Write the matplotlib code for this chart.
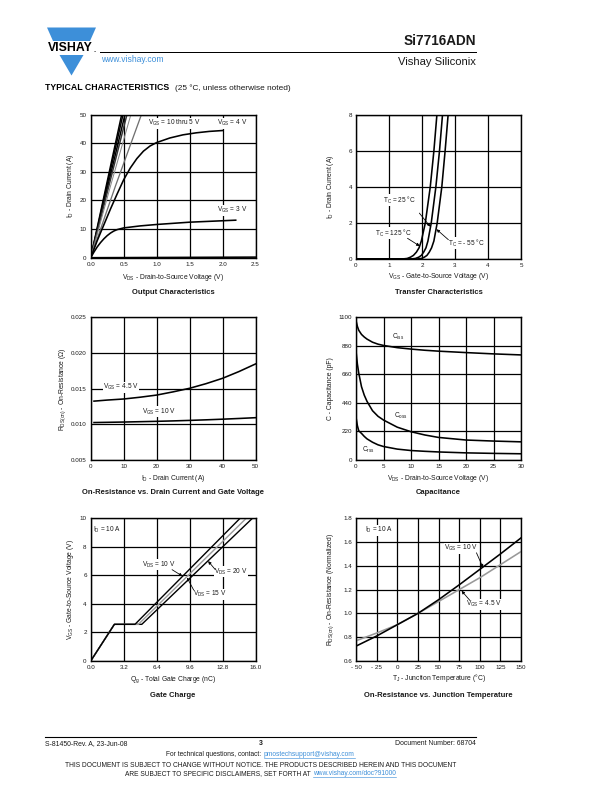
import matplotlib
matplotlib.use("Agg")
import matplotlib.pyplot as plt
from matplotlib.patches import Polygon

plt.rcParams['font.family'] = ['Liberation Sans', 'DejaVu Sans']
plt.rcParams['mathtext.fontset'] = 'custom'
plt.rcParams['mathtext.rm'] = 'Liberation Sans'
plt.rcParams['mathtext.it'] = 'Liberation Sans'
plt.rcParams['mathtext.bf'] = 'Liberation Sans:bold'

# ---------------- data ----------------
# Output characteristics (VGS = 10 thru 5 V are near-straight lines)
out_steep_id = [0, 25, 50]
out_steep_vds = [[0, 0.235, 0.47], [0, 0.245, 0.49], [0, 0.26, 0.52],
                 [0, 0.275, 0.55], [0, 0.30, 0.61], [0, 0.375, 0.77]]
out_4v_vds = [0, 0.1, 0.2, 0.3, 0.4, 0.5, 0.6, 0.7, 0.8, 0.9, 1.0, 1.2, 1.4, 1.6, 1.8, 2.0]
out_4v_id = [0, 6, 11.5, 17, 22.2, 27.2, 31.3, 34.6, 37.2, 39, 40.2, 41.8, 42.9, 43.6, 44.1, 44.4]
out_3v_vds = [0, 0.05, 0.1, 0.15, 0.2, 0.25, 0.3, 0.35, 0.4, 0.5, 0.75, 1.0, 1.5, 2.0, 2.2]
out_3v_id = [0, 2.0, 3.8, 5.3, 6.6, 7.7, 8.6, 9.3, 9.8, 10.4, 11.1, 11.6, 12.4, 12.9, 13.1]
out_2v_vds = [0, 2.5]
out_2v_id = [0, 0.2]

# Transfer characteristics
tr_id = [0, 0, 0.03, 0.1, 0.2, 0.38, 0.62, 1.0, 2.0, 4.0, 6.0, 8.2]
tr_125_vgs = [0, 1.4, 1.55, 1.65, 1.74, 1.83, 1.91, 1.98, 2.1, 2.25, 2.36, 2.46]
tr_25_vgs = [0, 1.65, 1.8, 1.9, 1.98, 2.05, 2.12, 2.18, 2.28, 2.42, 2.53, 2.63]
tr_m55_vgs = [0, 1.85, 1.98, 2.07, 2.15, 2.22, 2.29, 2.36, 2.46, 2.6, 2.7, 2.8]

# On-resistance vs drain current
rds_id = [1, 5, 10, 15, 20, 25, 30, 35, 40, 45, 50]
rds_45v = [0.01325, 0.0134, 0.01355, 0.0138, 0.0141, 0.01455, 0.01505, 0.0157, 0.01645, 0.0174, 0.01846]
rds_10v = [0.01025, 0.01028, 0.01032, 0.01037, 0.01042, 0.01048, 0.01055, 0.01063, 0.01072, 0.01082, 0.01093]

# Capacitance
cap_vds = [0, 0.25, 0.5, 1, 1.5, 2, 3, 4, 5, 7.5, 10, 12.5, 15, 20, 25, 30]
cap_ciss = [1075, 1030, 1000, 968, 948, 932, 908, 893, 883, 866, 855, 846, 839, 828, 818, 810]
cap_coss = [840, 740, 670, 565, 500, 452, 380, 337, 308, 253, 218, 193, 174, 154, 146, 140]
cap_crss = [330, 265, 225, 205, 182, 163, 137, 117, 104, 84, 73, 67, 62, 55, 51, 48]

# Gate charge
gc_vgs = [0, 2.57, 2.57, 10.0]
gc_qg_10v = [0, 2.3, 4.3, 14.5]
gc_qg_15v = [0, 2.3, 4.63, 15.1]
gc_qg_20v = [0, 2.3, 4.96, 15.7]

# On-resistance vs junction temperature
tj = [-50, -25, 0, 25, 50, 75, 100, 125, 150]
rn_10v = [0.725, 0.81, 0.905, 1.0, 1.115, 1.24, 1.37, 1.50, 1.635]
rn_45v = [0.77, 0.835, 0.905, 1.0, 1.10, 1.20, 1.30, 1.41, 1.52]

# ---------------- figure ----------------
W, H = 612, 792
fig = plt.figure(figsize=(W / 72, H / 72), dpi=72)
page = fig.add_axes([0, 0, 1, 1])
page.set_xlim(0, W)
page.set_ylim(H, 0)
page.axis('off')

BLUE = '#3d8fd9'
TXT = '#1a1a1a'
FS_TICK = 6.2
FS_NOTE = 6.5
FS_LAB = 6.8
FS_TITLE = 7.6


def box(x0, y0, x1, y1):
    return fig.add_axes([x0 / W, 1 - y1 / H, (x1 - x0) / W, (y1 - y0) / H])


def setup(ax, xt, xl, yt, yl):
    ax.set_xlim(xt[0], xt[-1])
    ax.set_ylim(yt[0], yt[-1])
    ax.set_xticks(xt)
    ax.set_xticklabels(xl)
    ax.set_yticks(yt)
    ax.set_yticklabels(yl)
    ax.grid(True, color='black', lw=1.25)
    ax.set_axisbelow(True)
    ax.tick_params(length=0, labelsize=FS_TICK, pad=4, colors=TXT)
    for s in ax.spines.values():
        s.set_linewidth(1.4)


def labels(x0, y0, x1, y1, xlab, ylab, ylab_x, xlab_y, title, title_y):
    page.text((x0 + x1) / 2, xlab_y, xlab, fontsize=FS_LAB, ha='center', va='center', color=TXT)
    page.text(ylab_x, (y0 + y1) / 2, ylab, fontsize=FS_LAB, ha='center', va='center',
              rotation=90, color=TXT)
    page.text((x0 + x1) / 2, title_y, title, fontsize=FS_TITLE, fontweight='bold',
              ha='center', va='center', color=TXT)


def note(ax, x, y, s, ha='left'):
    ax.text(x, y, s, fontsize=FS_NOTE, ha=ha, va='center', color=TXT, zorder=4,
            bbox=dict(fc='white', ec='none', pad=0.4))


def arrow(ax, tail, tip):
    ax.annotate('', xy=tip, xytext=tail, zorder=4,
                arrowprops=dict(arrowstyle='-|>', color='black', lw=0.8,
                                mutation_scale=6, shrinkA=0, shrinkB=0))


LW = 1.6

# 1. Output characteristics
b = (90.7, 114.5, 255.5, 257.7)
ax = box(*b)
setup(ax, [0, 0.5, 1, 1.5, 2, 2.5], ['0.0', '0.5', '1.0', '1.5', '2.0', '2.5'],
      [0, 10, 20, 30, 40, 50], ['0', '10', '20', '30', '40', '50'])
steep_col = ['black', 'black', 'black', '#333333', '#888888', '#707070']
steep_lw = [1.5, 1.5, 1.5, 1.5, 1.0, 1.3]
for v, c, w in zip(out_steep_vds, steep_col, steep_lw):
    ax.plot(v, out_steep_id, color=c, lw=w)
ax.plot(out_4v_vds, out_4v_id, color='black', lw=LW)
ax.plot(out_3v_vds, out_3v_id, color='black', lw=LW)
ax.plot(out_2v_vds, out_2v_id, color='black', lw=LW)
note(ax, 0.87, 46.9, r'V$_{\mathrm{GS}}$ = 10 thru 5 V')
note(ax, 1.91, 46.9, r'V$_{\mathrm{GS}}$ = 4 V')
note(ax, 1.91, 16.6, r'V$_{\mathrm{GS}}$ = 3 V')
labels(*b, r'V$_{\mathrm{DS}}$ - Drain-to-Source Voltage (V)', r'I$_{\mathrm{D}}$ - Drain Current (A)',
       70.5, 277.5, 'Output Characteristics', 292.5)

# 2. Transfer characteristics
b = (356, 115, 521, 259)
ax = box(*b)
setup(ax, [0, 1, 2, 3, 4, 5], ['0', '1', '2', '3', '4', '5'],
      [0, 2, 4, 6, 8], ['0', '2', '4', '6', '8'])
ax.plot(tr_125_vgs, tr_id, color='black', lw=LW)
ax.plot(tr_25_vgs, tr_id, color='black', lw=LW)
ax.plot(tr_m55_vgs, tr_id, color='black', lw=LW)
note(ax, 0.83, 3.28, r'T$_{\mathrm{C}}$ = 25 °C')
arrow(ax, (1.92, 2.55), (2.25, 1.8))
note(ax, 0.58, 1.43, r'T$_{\mathrm{C}}$ = 125 °C')
arrow(ax, (1.56, 1.15), (1.93, 0.72))
note(ax, 2.8, 0.87, r'T$_{\mathrm{C}}$ = - 55 °C')
arrow(ax, (2.8, 1.07), (2.44, 1.65))
labels(*b, r'V$_{\mathrm{GS}}$ - Gate-to-Source Voltage (V)', r'I$_{\mathrm{D}}$ - Drain Current (A)',
       331, 276.7, 'Transfer Characteristics', 292.5)

# 3. On-resistance vs drain current
b = (90.7, 317.3, 255.5, 460)
ax = box(*b)
setup(ax, [0, 10, 20, 30, 40, 50], ['0', '10', '20', '30', '40', '50'],
      [0.005, 0.010, 0.015, 0.020, 0.025], ['0.005', '0.010', '0.015', '0.020', '0.025'])
ax.plot(rds_id, rds_45v, color='black', lw=LW)
ax.plot(rds_id, rds_10v, color='black', lw=LW)
note(ax, 3.8, 0.0152, r'V$_{\mathrm{GS}}$ = 4.5 V')
note(ax, 15.5, 0.01177, r'V$_{\mathrm{GS}}$ = 10 V')
labels(*b, r'I$_{\mathrm{D}}$ - Drain Current (A)', r'R$_{\mathrm{DS(on)}}$ - On-Resistance (Ω)',
       63, 478.3, 'On-Resistance vs. Drain Current and Gate Voltage', 493)

# 4. Capacitance
b = (356, 317.3, 521, 460)
ax = box(*b)
setup(ax, [0, 5, 10, 15, 20, 25, 30], ['0', '5', '10', '15', '20', '25', '30'],
      [0, 220, 440, 660, 880, 1100], ['0', '220', '440', '660', '880', '1100'])
ax.plot(cap_vds, cap_ciss, color='black', lw=LW)
ax.plot(cap_vds, cap_coss, color='black', lw=LW)
ax.plot(cap_vds, cap_crss, color='black', lw=LW)
note(ax, 6.5, 948, r'C$_{\mathrm{iss}}$')
note(ax, 6.9, 338, r'C$_{\mathrm{oss}}$')
note(ax, 1.0, 77, r'C$_{\mathrm{rss}}$')
labels(*b, r'V$_{\mathrm{DS}}$ - Drain-to-Source Voltage (V)', 'C - Capacitance (pF)',
       330, 478.3, 'Capacitance', 493)

# 5. Gate charge
b = (90.7, 518.3, 255.5, 661)
ax = box(*b)
setup(ax, [0, 3.2, 6.4, 9.6, 12.8, 16.0], ['0.0', '3.2', '6.4', '9.6', '12.8', '16.0'],
      [0, 2, 4, 6, 8, 10], ['0', '2', '4', '6', '8', '10'])
ax.plot(gc_qg_20v, gc_vgs, color='black', lw=1.4)
ax.plot(gc_qg_15v, gc_vgs, color='#9a9a9a', lw=1.4)
ax.plot(gc_qg_10v, gc_vgs, color='black', lw=1.4)
note(ax, 0.25, 9.18, r'I$_{\mathrm{D}}$ = 10 A')
note(ax, 5.0, 6.73, r'V$_{\mathrm{DS}}$ = 10 V')
arrow(ax, (7.9, 6.4), (8.9, 5.95))
note(ax, 12.0, 6.26, r'V$_{\mathrm{DS}}$ = 20 V')
arrow(ax, (12.1, 6.4), (11.4, 7.0))
note(ax, 9.9, 4.67, r'V$_{\mathrm{DS}}$ = 15 V')
arrow(ax, (10.0, 4.97), (9.35, 5.85))
labels(*b, r'Q$_{\mathrm{g}}$ - Total Gate Charge (nC)', r'V$_{\mathrm{GS}}$ - Gate-to-Source Voltage (V)',
       70, 680, 'Gate Charge', 695.5)

# 6. On-resistance vs junction temperature
b = (356, 518.3, 521, 661)
ax = box(*b)
setup(ax, [-50, -25, 0, 25, 50, 75, 100, 125, 150],
      ['- 50', '- 25', '0', '25', '50', '75', '100', '125', '150'],
      [0.6, 0.8, 1.0, 1.2, 1.4, 1.6, 1.8], ['0.6', '0.8', '1.0', '1.2', '1.4', '1.6', '1.8'])
ax.plot(tj, rn_45v, color='#999999', lw=LW)
ax.plot(tj, rn_10v, color='black', lw=LW)
note(ax, -39, 1.70, r'I$_{\mathrm{D}}$ = 10 A')
note(ax, 57, 1.548, r'V$_{\mathrm{GS}}$ = 10 V')
arrow(ax, (96, 1.51), (104, 1.385))
note(ax, 83, 1.077, r'V$_{\mathrm{GS}}$ = 4.5 V')
arrow(ax, (88, 1.11), (78, 1.19))
labels(*b, r'T$_{\mathrm{J}}$ - Junction Temperature (°C)', r'R$_{\mathrm{DS(on)}}$ - On-Resistance (Normalized)',
       330.5, 678.3, 'On-Resistance vs. Junction Temperature', 695.5)

# ---------------- header ----------------
page.add_patch(Polygon([(47, 27.5), (96, 27.5), (90, 41), (53, 41)], closed=True,
                       fc=BLUE, ec='none'))
page.add_patch(Polygon([(59.5, 55), (83.5, 55), (71.5, 75.5)], closed=True, fc=BLUE, ec='none'))
page.text(70.5, 48.3, 'VISHAY', fontsize=12.3, fontweight='bold', ha='center', va='center',
          color='black')
page.text(94.5, 51, '.', fontsize=8, fontweight='bold', ha='center', va='center', color='black')
page.plot([100, 476], [52.3, 52.3], color='black', lw=1.0)
page.text(476, 41, 'Si7716ADN', fontsize=13.5, fontweight='bold', ha='right', va='center', color=TXT)
page.text(476, 62, 'Vishay Siliconix', fontsize=11.3, ha='right', va='center', color=TXT)
page.text(101.5, 59, 'www.vishay.com', fontsize=8.5, ha='left', va='center', color=BLUE)
page.text(45, 88, 'TYPICAL CHARACTERISTICS', fontsize=8.8, fontweight='bold', ha='left',
          va='center', color='black')
page.text(175, 88, '(25 °C, unless otherwise noted)', fontsize=8.3, ha='left', va='center', color=TXT)

# ---------------- footer ----------------
page.plot([45, 476], [737.3, 737.3], color='black', lw=1.1)
page.text(45, 743.5, 'S-81450-Rev. A, 23-Jun-08', fontsize=6.9, ha='left', va='center', color=TXT)
page.text(261, 743.5, '3', fontsize=6.9, fontweight='bold', ha='center', va='center', color=TXT)
page.text(476, 743.5, 'Document Number: 68704', fontsize=6.9, ha='right', va='center', color=TXT)

foot_lines = [
    (754.2, 'For technical questions, contact:', 'pmostechsupport@vishay.com'),
    (765.3, 'THIS DOCUMENT IS SUBJECT TO CHANGE WITHOUT NOTICE. THE PRODUCTS DESCRIBED HEREIN AND THIS DOCUMENT', None),
    (773.5, 'ARE SUBJECT TO SPECIFIC DISCLAIMERS, SET FORTH AT', 'www.vishay.com/doc?91000'),
]
fig.canvas.draw()
renderer = fig.canvas.get_renderer()
for y, plain, link in foot_lines:
    t1 = page.text(0, y, plain, fontsize=6.6, ha='left', va='center', color=TXT)
    w1 = t1.get_window_extent(renderer).width
    if link is None:
        t1.set_x(260.5 - w1 / 2)
        continue
    t2 = page.text(0, y, link, fontsize=6.6, ha='left', va='center', color=BLUE)
    w2 = t2.get_window_extent(renderer).width
    gap = 2.0
    x0 = 260.5 - (w1 + gap + w2) / 2
    t1.set_x(x0)
    t2.set_x(x0 + w1 + gap)
    page.plot([x0 + w1 + gap, x0 + w1 + gap + w2], [y + 3.6, y + 3.6], color=BLUE, lw=0.6)

fig.savefig('out.png', dpi=72)
